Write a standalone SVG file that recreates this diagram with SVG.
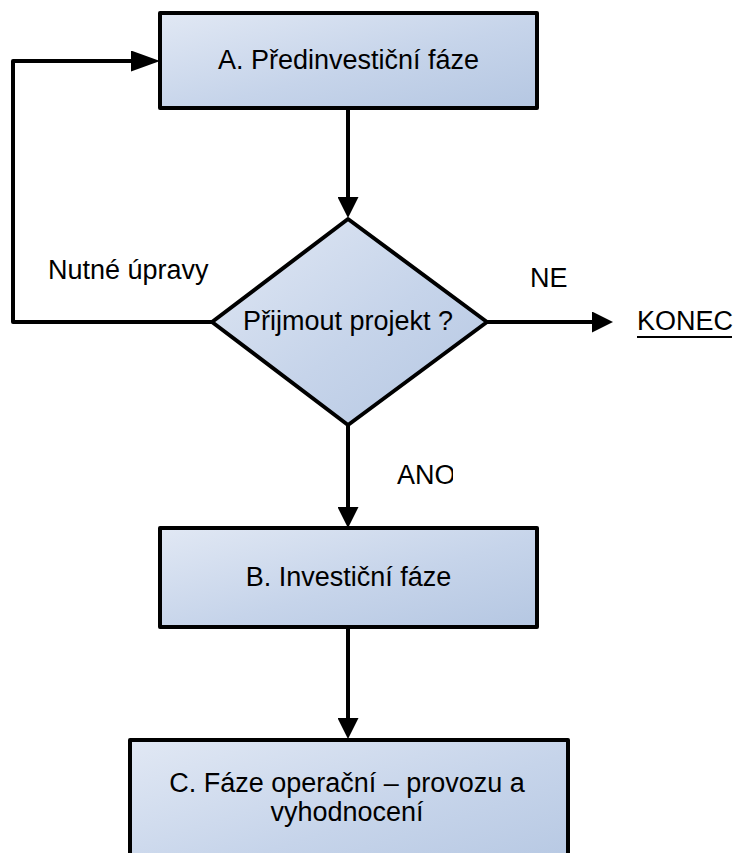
<svg xmlns="http://www.w3.org/2000/svg" width="735" height="853" viewBox="0 0 735 853">
  <style>
    .shape { stroke: #000; stroke-width: 4; stroke-linejoin: round; fill: url(#fillGrad); }
    .label { font-family: "Liberation Sans", Arial, sans-serif; font-size: 27px; fill: #000; }
    .mid { text-anchor: middle; }
    .conn { fill: none; stroke: #000; stroke-width: 4; stroke-linejoin: round; marker-end: url(#arrow); }
  </style>
  <defs>
    <linearGradient id="fillGrad" x1="0" y1="0" x2="1" y2="1">
      <stop offset="0" stop-color="#e1e8f4"/>
      <stop offset="0.55" stop-color="#c6d4ea"/>
      <stop offset="1" stop-color="#b5c7e2"/>
    </linearGradient>
    <marker id="arrow" viewBox="0 0 21 21" refX="11" refY="10.5" markerWidth="21" markerHeight="21" markerUnits="userSpaceOnUse" orient="auto">
      <path d="M0,0 L21,10.5 L0,21 Z" fill="#000"/>
    </marker>
    <marker id="arrowLong" viewBox="0 0 29 21" refX="19" refY="10.5" markerWidth="29" markerHeight="21" markerUnits="userSpaceOnUse" orient="auto">
      <path d="M0,0 L29,10.5 L0,21 Z" fill="#000"/>
    </marker>
    <clipPath id="anoClip">
      <rect x="380" y="450" width="73" height="50"/>
    </clipPath>
  </defs>

  <rect width="735" height="853" fill="#fff"/>

  <!-- connectors -->
  <g id="connectors">
    <path class="conn" d="M348,108 L348,208"/>
    <path class="conn" d="M348,425 L348,518"/>
    <path class="conn" d="M348,627 L348,729"/>
    <path class="conn" d="M487,322 L603,322"/>
    <path class="conn" style="marker-end:url(#arrowLong)" d="M212,322 L13,322 L13,61 L150,61"/>
  </g>

  <!-- edge labels -->
  <g id="edge-labels">
    <text class="label" x="48" y="279">Nutné úpravy</text>
    <text class="label" x="530" y="287">NE</text>
    <text class="label" x="397" y="484" clip-path="url(#anoClip)">ANO</text>
  </g>

  <g id="node-a">
    <rect class="shape" x="160" y="13" width="377" height="95"/>
    <text class="label mid" x="348.5" y="69">A. Předinvestiční fáze</text>
  </g>

  <g id="node-decision">
    <polygon class="shape" points="348,219 487,322 348,425 212,322"/>
    <text class="label mid" x="348" y="330">Přijmout projekt ?</text>
  </g>

  <g id="node-end">
    <text class="label" x="637" y="330">KONEC</text>
    <rect x="637" y="336" width="95" height="2" fill="#000"/>
  </g>

  <g id="node-b">
    <rect class="shape" x="160" y="528" width="377" height="99"/>
    <text class="label mid" x="348.5" y="586">B. Investiční fáze</text>
  </g>

  <g id="node-c">
    <rect class="shape" x="130" y="740" width="438" height="140"/>
    <text class="label mid" x="347" y="792">C. Fáze operační – provozu a</text>
    <text class="label mid" x="347" y="821">vyhodnocení</text>
  </g>
</svg>
